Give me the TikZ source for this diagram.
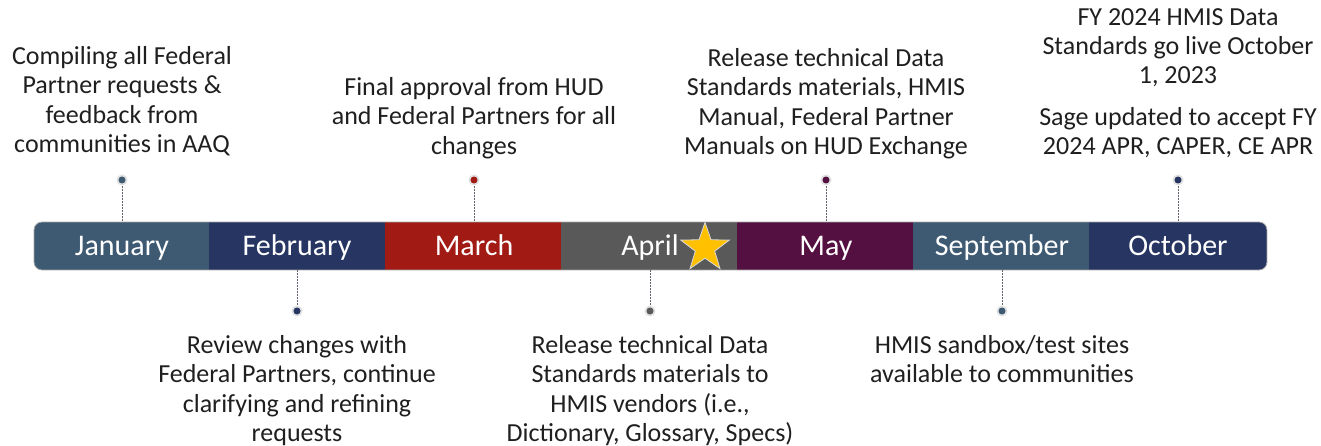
\documentclass[tikz,border=0pt]{standalone}
\usepackage{fontspec}
\setmainfont{Carlito}
\usetikzlibrary{shapes.geometric}
\definecolor{cSteel}{HTML}{3E5A72}
\definecolor{cNavy}{HTML}{263561}
\definecolor{cRed}{HTML}{A11A14}
\definecolor{cGray}{HTML}{595959}
\definecolor{cPurple}{HTML}{551042}
\definecolor{cGold}{HTML}{FFC000}
\definecolor{cLine}{HTML}{6A6070}
\tikzset{
  monthlbl/.style={text=white,font=\fontsize{30}{34}\selectfont,inner sep=0pt,anchor=base},
  note/.style={align=center,font=\fontsize{26}{29.4}\selectfont,inner sep=0pt,text=black!88},
  tick/.style={draw=cLine,line width=0.8pt,dash pattern=on 1.6pt off 1.4pt},
  halo/.style={circle,fill=black!12,minimum size=11pt,inner sep=0pt},
}
\newcommand{\mydot}[3]{%
  \node[halo] at (#2) {};
  \node[circle,fill=#3,minimum size=7pt,inner sep=0pt] (#1) at (#2) {};}
\begin{document}
\begin{tikzpicture}[x=1pt,y=-1pt]
\useasboundingbox (0,0) rectangle (1321,446);
% bar
\begin{scope}
\clip[rounded corners=8pt] (34,222) rectangle (1267,270);
\fill[cSteel] (34,222) rectangle (209,270);
\fill[cNavy] (209,222) rectangle (385,270);
\fill[cRed] (385,222) rectangle (561,270);
\fill[cGray] (561,222) rectangle (737,270);
\fill[cPurple] (737,222) rectangle (913,270);
\fill[cSteel] (913,222) rectangle (1089,270);
\fill[cNavy] (1089,222) rectangle (1267,270);
\end{scope}
\draw[black!35,line width=0.8pt,rounded corners=8pt] (34,222) rectangle (1267,270);
% month labels
\node[monthlbl] (jan) at (122,255) {January};
\node[monthlbl] (feb) at (297,255) {February};
\node[monthlbl] (mar) at (474,255) {March};
\node[monthlbl] (apr) at (650,255) {April};
\node[monthlbl] (may) at (826,255) {May};
\node[monthlbl] (sep) at (1002,255) {September};
\node[monthlbl] (oct) at (1178,255) {October};
% star
\node[star,star points=5,star point ratio=2.5,fill=cGold,draw=white!85!black,line width=0.8pt,minimum size=51pt,inner sep=0pt] (star) at (705,248) {};
% anchor points on bar
\coordinate (bjan) at (122,222);
\coordinate (bfeb) at (297,270);
\coordinate (bmar) at (474,222);
\coordinate (bapr) at (650,270);
\coordinate (bmay) at (826,222);
\coordinate (bsep) at (1002,270);
\coordinate (boct) at (1178,222);
% dots
\draw[tick] (122,180) -- (bjan);
\draw[tick] (297,311) -- (bfeb);
\draw[tick] (474,180) -- (bmar);
\draw[tick] (650,311) -- (bapr);
\draw[tick] (826,180) -- (bmay);
\draw[tick] (1002,311) -- (bsep);
\draw[tick] (1178,180) -- (boct);
\mydot{djan}{122,180}{cSteel}
\mydot{dfeb}{297,311}{cNavy}
\mydot{dmar}{474,180}{cRed}
\mydot{dapr}{650,311}{cGray}
\mydot{dmay}{826,180}{cPurple}
\mydot{dsep}{1002,311}{cSteel}
\mydot{doct}{1178,180}{cNavy}
% notes
\node[note,anchor=north] (njan) at (122,46) {Compiling all Federal\\Partner requests \&\\feedback from\\communities in AAQ};
\node[note,anchor=north] (nmar) at (474,77) {Final approval from HUD\\and Federal Partners for all\\changes};
\node[note,anchor=north] (nmay) at (826,48) {Release technical Data\\Standards materials, HMIS\\Manual, Federal Partner\\Manuals on HUD Exchange};
\node[note,anchor=north] (noct1) at (1178,8) {FY 2024 HMIS Data\\Standards go live October\\1, 2023};
\node[note,anchor=north] (noct2) at (1178,107) {Sage updated to accept FY\\2024 APR, CAPER, CE APR};
\node[note,anchor=north] (nfeb) at (297,335) {Review changes with\\Federal Partners, continue\\clarifying and refining\\requests};
\node[note,anchor=north] (napr) at (650,335) {Release technical Data\\Standards materials to\\HMIS vendors (i.e.,\\Dictionary, Glossary, Specs)};
\node[note,anchor=north] (nsep) at (1002,335) {HMIS sandbox/test sites\\available to communities};
\end{tikzpicture}
\end{document}
